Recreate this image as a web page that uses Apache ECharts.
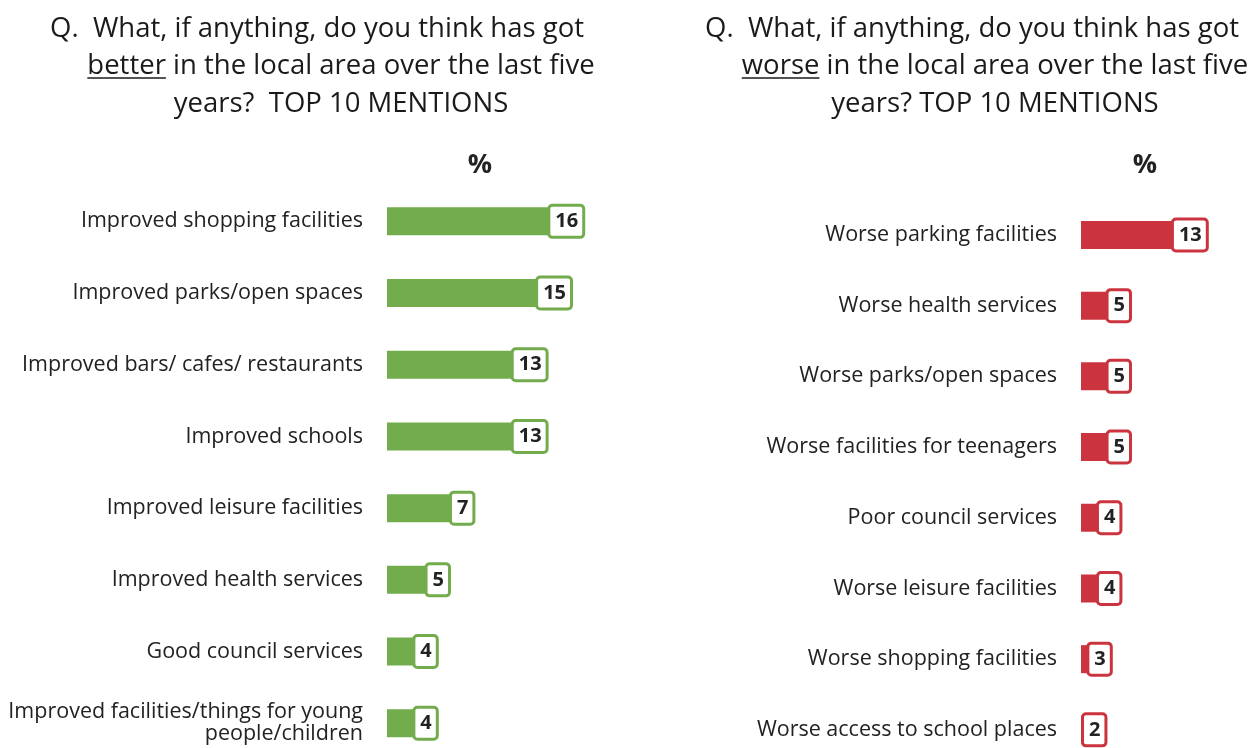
<!DOCTYPE html>
<html>
<head>
<meta charset="utf-8">
<script src="https://cdn.jsdelivr.net/npm/echarts@6/dist/echarts.min.js"></script>
<style>
  html, body { margin: 0; padding: 0; background: #fff; overflow: hidden; }
  /* taller than the window: the last rows run off the bottom edge */
  #chart { width: 1250px; height: 800px; }
</style>
</head>
<body>
<div id="chart"></div>
<script>
// Things that got better (left panel)
const betterCats = [
  'Improved shopping facilities',
  'Improved parks/open spaces',
  'Improved bars/ cafes/ restaurants',
  'Improved schools',
  'Improved leisure facilities',
  'Improved health services',
  'Good council services',
  'Improved facilities/things for young\npeople/children'
];
const betterVals = [16, 15, 13, 13, 7, 5, 4, 4];

// Things that got worse (right panel)
const worseCats = [
  'Worse parking facilities',
  'Worse health services',
  'Worse parks/open spaces',
  'Worse facilities for teenagers',
  'Poor council services',
  'Worse leisure facilities',
  'Worse shopping facilities',
  'Worse access to school places'
];
const worseVals = [13, 5, 5, 5, 4, 4, 3, 2];

const FONT = '"Open Sans", "Noto Sans", sans-serif';
const GREEN = '#72AC4D';
const RED = '#CB343F';
const TEXT = '#222222';
const TITLE_SIZE = 27.5;

const chart = echarts.init(document.getElementById('chart'), null, { renderer: 'canvas' });

// measure text so the underlined word can sit under its own glyphs
const measureCtx = document.createElement('canvas').getContext('2d');
function textWidth(str, size, weight) {
  measureCtx.font = (weight || 'normal') + ' ' + size + 'px ' + FONT;
  return measureCtx.measureText(str).width;
}

// Three-line question heading; the key word on line two is underlined
function heading(x1, cx, word, rest2, line3) {
  const line2 = word + rest2;
  const w2 = textWidth(line2, TITLE_SIZE);
  const wWord = textWidth(word, TITLE_SIZE);
  const start2 = cx - w2 / 2;
  const base = { fill: '#1a1a1a', font: TITLE_SIZE + 'px ' + FONT, verticalAlign: 'top' };
  return [
    { type: 'text', style: Object.assign({}, base, { text: 'Q.  What, if anything, do you think has got', x: x1, y: 15, align: 'left' }) },
    { type: 'text', style: Object.assign({}, base, { text: line2, x: start2, y: 52, align: 'left' }) },
    { type: 'line', shape: { x1: start2, y1: 78, x2: start2 + wWord, y2: 78 }, style: { stroke: '#1a1a1a', lineWidth: 1.5 } },
    { type: 'text', style: Object.assign({}, base, { text: line3, x: cx, y: 90, align: 'center' }) }
  ];
}

function barSeries(idx, vals, color, pxPerUnit) {
  return {
    type: 'bar',
    xAxisIndex: idx,
    yAxisIndex: idx,
    barWidth: 28,
    itemStyle: { color: color },
    data: vals.map(v => {
      const item = { value: v };
      // short bars keep their value box anchored near the bar's start
      if (v * pxPerUnit < 26) item.label = { position: 'insideLeft', distance: 3 };
      return item;
    }),
    label: {
      show: true,
      position: 'insideRight',
      distance: 0,
      color: TEXT,
      fontFamily: FONT,
      fontWeight: 'bold',
      fontSize: 20,
      lineHeight: 22,
      backgroundColor: '#ffffff',
      borderColor: color,
      borderWidth: 3,
      borderRadius: 2,
      padding: [4, 4, 3, 5]
    }
  };
}

function catAxis(idx, cats) {
  return {
    type: 'category',
    gridIndex: idx,
    data: cats,
    inverse: true,
    axisLine: { show: false },
    axisTick: { show: false },
    axisLabel: {
      margin: 24,
      color: TEXT,
      fontFamily: FONT,
      fontSize: 21.5,
      lineHeight: 22,
      align: 'right'
    }
  };
}

function valAxis(idx, max) {
  return {
    type: 'value',
    gridIndex: idx,
    min: 0,
    max: max,
    show: false,
    splitLine: { show: false }
  };
}

const LEFT_PX = 12.2;
const RIGHT_PX = 9.6;

chart.setOption({
  animation: false,
  backgroundColor: '#ffffff',
  grid: [
    { left: 387, top: 185.5, width: 20 * LEFT_PX, height: 8 * 71.7 },
    { left: 1081, top: 199.6, width: 15 * RIGHT_PX, height: 8 * 70.7 }
  ],
  xAxis: [valAxis(0, 20), valAxis(1, 15)],
  yAxis: [catAxis(0, betterCats), catAxis(1, worseCats)],
  series: [
    barSeries(0, betterVals, GREEN, LEFT_PX),
    barSeries(1, worseVals, RED, RIGHT_PX)
  ],
  graphic: [].concat(
    heading(50, 341, 'better', ' in the local area over the last five', 'years?  TOP 10 MENTIONS'),
    heading(705, 995, 'worse', ' in the local area over the last five', 'years? TOP 10 MENTIONS'),
    [
      { type: 'text', style: { text: '%', x: 480, y: 165, align: 'center', verticalAlign: 'middle', font: 'bold 27px ' + FONT, fill: TEXT } },
      { type: 'text', style: { text: '%', x: 1145, y: 165, align: 'center', verticalAlign: 'middle', font: 'bold 27px ' + FONT, fill: TEXT } }
    ]
  )
});
</script>
</body>
</html>
